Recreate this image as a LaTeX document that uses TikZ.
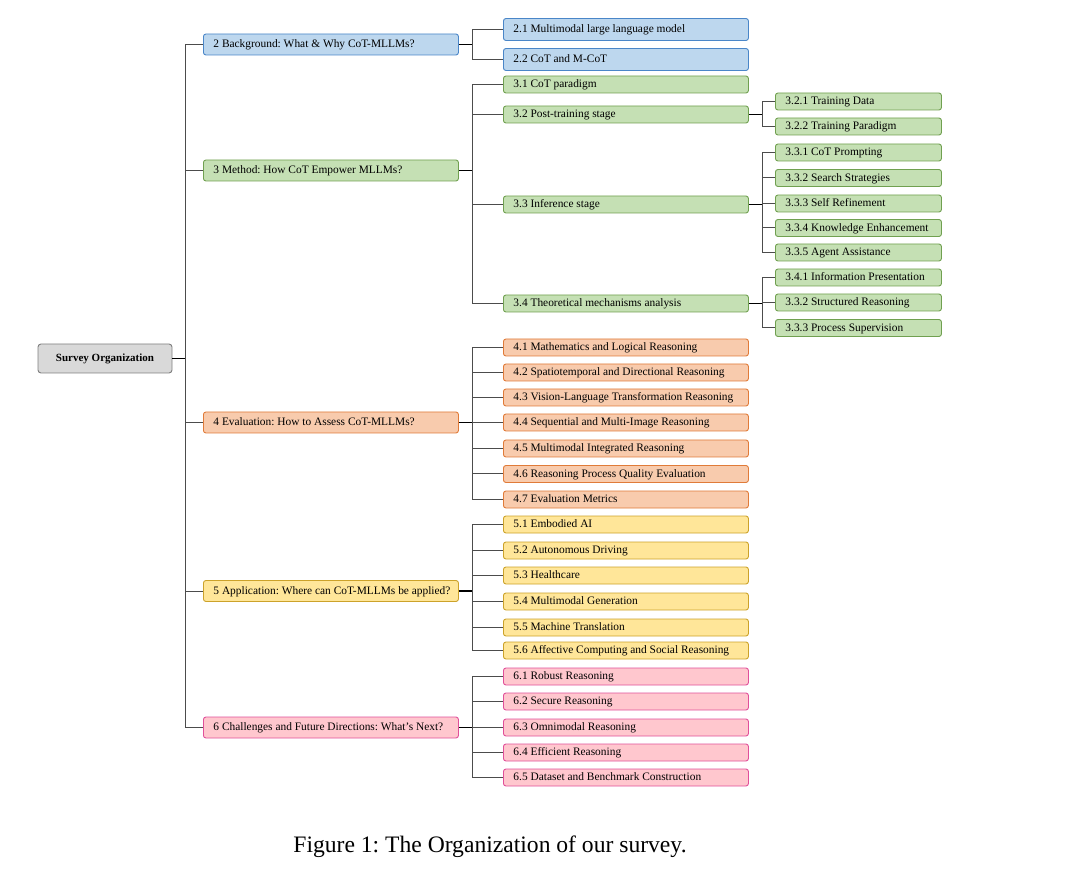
\documentclass[tikz,border=0pt]{standalone}
\usepackage{fontspec}
\setmainfont{Liberation Serif}
\frenchspacing
\definecolor{bfill}{HTML}{BDD7EE}\definecolor{bdraw}{HTML}{4A86C8}
\definecolor{gfill}{HTML}{C5E0B4}\definecolor{gdraw}{HTML}{70A050}
\definecolor{ofill}{HTML}{F8CBAD}\definecolor{odraw}{HTML}{E07B39}
\definecolor{yfill}{HTML}{FFE699}\definecolor{ydraw}{HTML}{CCA22A}
\definecolor{pfill}{HTML}{FFC7CE}\definecolor{pdraw}{HTML}{E0509A}
\definecolor{rfill}{HTML}{D9D9D9}\definecolor{rdraw}{HTML}{7F7F7F}
\newcommand\LBone[1]{\makebox[235pt][l]{#1}}
\newcommand\LBtwo[1]{\makebox[225pt][l]{#1}}
\newcommand\LBthree[1]{\makebox[146pt][l]{#1}}
\begin{document}
\begin{tikzpicture}[x=1pt,y=-1pt,
  box/.style={draw, rounded corners=2.5pt, line width=0.9pt, anchor=west,
    inner ysep=0pt, inner xsep=10pt, text height=0.8em, text depth=0.16em,
    font=\fontsize{11.4}{13}\selectfont},
  lone/.style={box, minimum height=21pt},
  ltwo/.style={box, minimum height=17pt},
  lthree/.style={box, minimum height=17pt},
  B/.style={fill=bfill, draw=bdraw}, G/.style={fill=gfill, draw=gdraw},
  O/.style={fill=ofill, draw=odraw}, Y/.style={fill=yfill, draw=ydraw},
  P/.style={fill=pfill, draw=pdraw},
  stub/.style={draw=black, line width=1.1pt},
  conn/.style={draw=black!70, line width=1pt},
]
\useasboundingbox (0,0) rectangle (1080,885);

% root
\node[draw=rdraw, fill=rfill, rounded corners=3pt, line width=0.9pt, minimum width=134pt,
  minimum height=29pt, inner sep=0pt, text height=0.8em, text depth=0.16em,
  font=\fontsize{11}{13}\selectfont\bfseries]
  (root) at (105,358.5) {Survey Organization};

% level 1
\node[lone,B] (s2) at (203,44.5) {\LBone{2 Background: What \& Why CoT-MLLMs?}};
\node[lone,G] (s3) at (203,170.5) {\LBone{3 Method: How CoT Empower MLLMs?}};
\node[lone,O] (s4) at (203,422.5) {\LBone{4 Evaluation: How to Assess CoT-MLLMs?}};
\node[lone,Y] (s5) at (203,591) {\LBone{5 Application: Where can CoT-MLLMs be applied?}};
\node[lone,P] (s6) at (203,727.5) {\LBone{6 Challenges and Future Directions: What’s Next?}};

% level 2
\node[ltwo,B,minimum height=22pt] (s21) at (503,29.5) {\LBtwo{2.1 Multimodal large language model}};
\node[ltwo,B,minimum height=22pt] (s22) at (503,59.5) {\LBtwo{2.2 CoT and M-CoT}};
\node[ltwo,G] (s31) at (503,84.5) {\LBtwo{3.1 CoT paradigm}};
\node[ltwo,G] (s32) at (503,114.5) {\LBtwo{3.2 Post-training stage}};
\node[ltwo,G] (s33) at (503,204.5) {\LBtwo{3.3 Inference stage}};
\node[ltwo,G] (s34) at (503,303.5) {\LBtwo{3.4 Theoretical mechanisms analysis}};
\node[ltwo,O] (s41) at (503,347.5) {\LBtwo{4.1 Mathematics and Logical Reasoning}};
\node[ltwo,O] (s42) at (503,372.5) {\LBtwo{4.2 Spatiotemporal and Directional Reasoning}};
\node[ltwo,O] (s43) at (503,397.5) {\LBtwo{4.3 Vision-Language Transformation Reasoning}};
\node[ltwo,O] (s44) at (503,422.5) {\LBtwo{4.4 Sequential and Multi-Image Reasoning}};
\node[ltwo,O] (s45) at (503,448.5) {\LBtwo{4.5 Multimodal Integrated Reasoning}};
\node[ltwo,O] (s46) at (503,474) {\LBtwo{4.6 Reasoning Process Quality Evaluation}};
\node[ltwo,O] (s47) at (503,499.5) {\LBtwo{4.7 Evaluation Metrics}};
\node[ltwo,Y] (s51) at (503,524.5) {\LBtwo{5.1 Embodied AI}};
\node[ltwo,Y] (s52) at (503,550.5) {\LBtwo{5.2 Autonomous Driving}};
\node[ltwo,Y] (s53) at (503,575.5) {\LBtwo{5.3 Healthcare}};
\node[ltwo,Y] (s54) at (503,601.5) {\LBtwo{5.4 Multimodal Generation}};
\node[ltwo,Y] (s55) at (503,627.5) {\LBtwo{5.5 Machine Translation}};
\node[ltwo,Y] (s56) at (503,650.5) {\LBtwo{5.6 Affective Computing and Social Reasoning}};
\node[ltwo,P] (s61) at (503,676.5) {\LBtwo{6.1 Robust Reasoning}};
\node[ltwo,P] (s62) at (503,701.5) {\LBtwo{6.2 Secure Reasoning}};
\node[ltwo,P] (s63) at (503,727.5) {\LBtwo{6.3 Omnimodal Reasoning}};
\node[ltwo,P] (s64) at (503,752.5) {\LBtwo{6.4 Efficient Reasoning}};
\node[ltwo,P] (s65) at (503,777.5) {\LBtwo{6.5 Dataset and Benchmark Construction}};

% level 3
\node[lthree,G] (s321) at (775,101.5) {\LBthree{3.2.1 Training Data}};
\node[lthree,G] (s322) at (775,126.5) {\LBthree{3.2.2 Training Paradigm}};
\node[lthree,G] (s331) at (775,152.5) {\LBthree{3.3.1 CoT Prompting}};
\node[lthree,G] (s332) at (775,178) {\LBthree{3.3.2 Search Strategies}};
\node[lthree,G] (s333) at (775,203.5) {\LBthree{3.3.3 Self Refinement}};
\node[lthree,G] (s334) at (775,228) {\LBthree{3.3.4 Knowledge Enhancement}};
\node[lthree,G] (s335) at (775,252.5) {\LBthree{3.3.5 Agent Assistance}};
\node[lthree,G] (s341) at (775,277.5) {\LBthree{3.4.1 Information Presentation}};
\node[lthree,G] (s342) at (775,302.5) {\LBthree{3.3.2 Structured Reasoning}};
\node[lthree,G] (s343) at (775,328) {\LBthree{3.3.3 Process Supervision}};

% connectors: root -> level 1
\coordinate (jr) at (185,358.5);
\draw[stub] (root.east) -- (jr);
\foreach \c in {s2,s3,s4,s5,s6} \draw[conn] (jr) |- (\c.west);

% level 1 -> level 2
\foreach \p/\kids in {s2/{s21,s22}, s3/{s31,s32,s33,s34},
  s4/{s41,s42,s43,s44,s45,s46,s47}, s5/{s51,s52,s53,s54,s55,s56},
  s6/{s61,s62,s63,s64,s65}}{
  \draw[stub] (\p.east) -- ++(14,0) coordinate (j\p);
  \foreach \c in \kids \draw[conn] (j\p) |- (\c.west);
}
% level 2 -> level 3
\foreach \p/\kids in {s32/{s321,s322}, s33/{s331,s332,s333,s334,s335},
  s34/{s341,s342,s343}}{
  \draw[stub] (\p.east) -- ++(14,0) coordinate (j\p);
  \foreach \c in \kids \draw[conn] (j\p) |- (\c.west);
}

% caption
\node[font=\fontsize{23.6}{28}\selectfont, inner sep=0pt] (cap) at (490,847)
  {Figure 1: The Organization of our survey.};
\end{tikzpicture}
\end{document}
